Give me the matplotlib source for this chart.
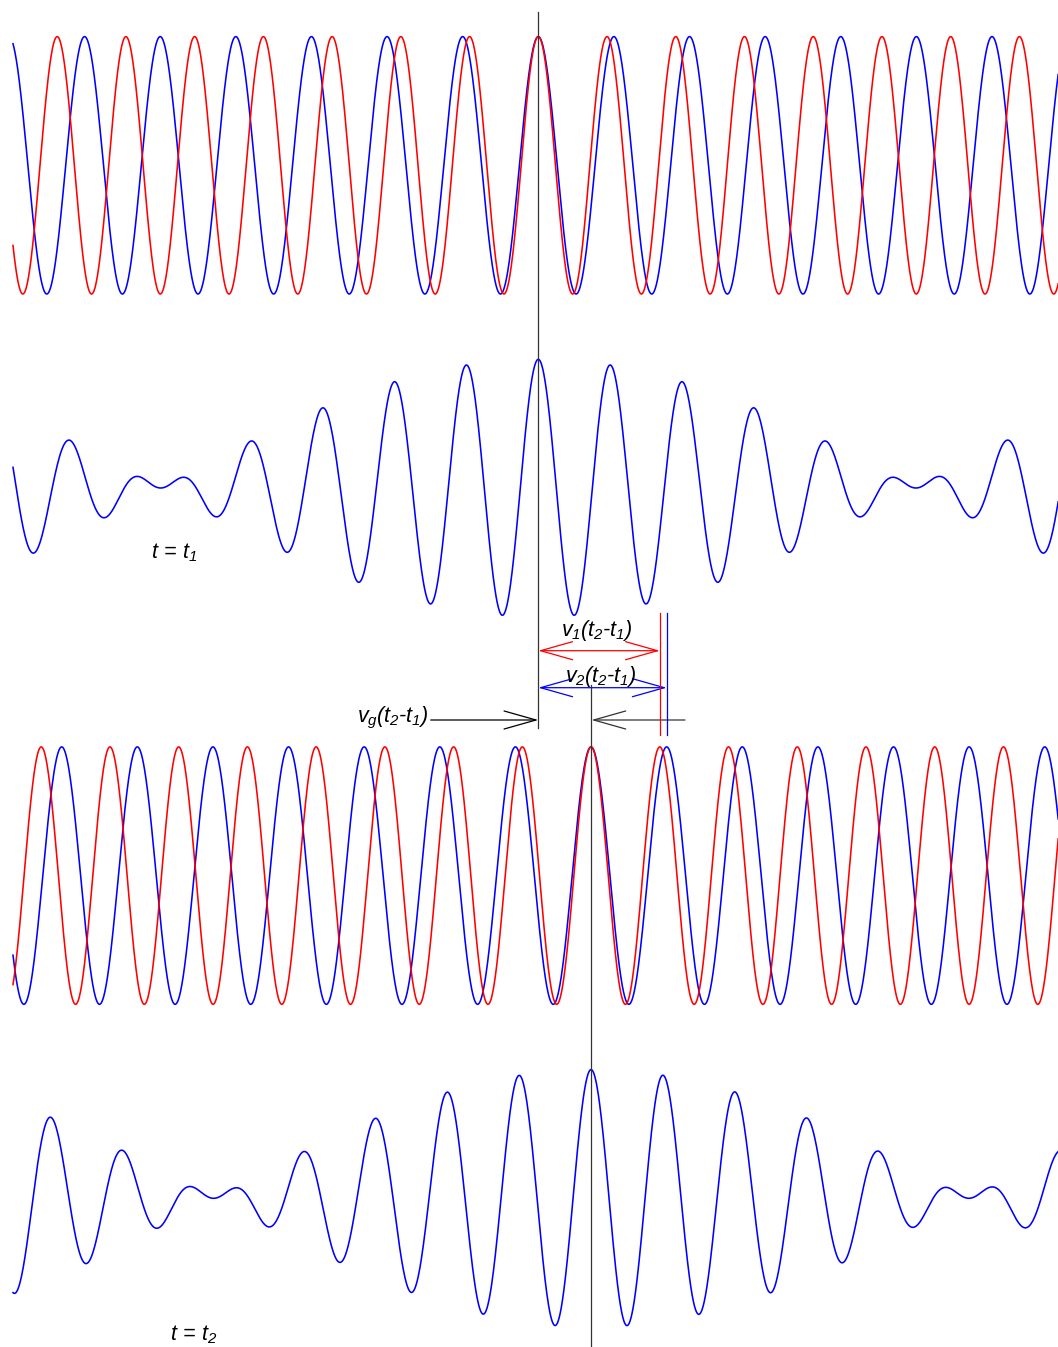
import numpy as np
import matplotlib
matplotlib.use("Agg")
import matplotlib.pyplot as plt
from matplotlib.patches import FancyArrowPatch

plt.rcParams['font.family'] = ['Liberation Sans', 'DejaVu Sans']
plt.rcParams['mathtext.fontset'] = 'custom'
plt.rcParams['mathtext.it'] = 'Liberation Sans:italic'
plt.rcParams['mathtext.rm'] = 'Liberation Sans:italic'
plt.rcParams['mathtext.sf'] = 'Liberation Sans:italic'

# ---- data (drawing units = pixels) ----
x_start, x_end = 13.0, 1060.0
wavelength_red = 68.73
wavelength_blue = 75.62
amplitude = 128.7
crest_t1 = 538.3            # common crest of both waves at t = t1
shift_red = 121.5           # v1 (t2 - t1)
shift_blue = 128.35         # v2 (t2 - t1)
center_components_t1 = 165.3
center_sum_t1 = 488.0
panel_offset_t2 = 710.3     # vertical offset of the t2 panels
labels_time = [r'$t\,=\,t_1$', r'$t\,=\,t_2$']
label_v1 = r'$v_1(t_2\text{-}t_1)$'
label_v2 = r'$v_2(t_2\text{-}t_1)$'
label_vg = r'$v_g(t_2\text{-}t_1)$'

RED = '#ff0000'
BLUE = '#0000ff'

fig = plt.figure(figsize=(10.58, 13.47), dpi=100)
ax = fig.add_axes([0, 0, 1, 1])
ax.set_xlim(0, 1058)
ax.set_ylim(1347, 0)
ax.axis('off')

x = np.linspace(x_start, x_end, 4000)

def wave(lam, shift):
    return np.cos(2 * np.pi * (x - crest_t1 - shift) / lam)

# group crest at t2 (where both phases align again)
kr, kb = 1 / wavelength_red, 1 / wavelength_blue
u = (shift_red * kr - shift_blue * kb) / (kr - kb)
crest_t2 = crest_t1 + u

for i, (dr, db) in enumerate([(0.0, 0.0), (shift_red, shift_blue)]):
    off = i * panel_offset_t2
    r = wave(wavelength_red, dr)
    b = wave(wavelength_blue, db)
    cc = center_components_t1 + off
    cs = center_sum_t1 + off
    ax.plot(x, cc - amplitude * b, color=BLUE, lw=1.15)
    ax.plot(x, cc - amplitude * r, color=RED, lw=1.15)
    ax.plot(x, cs - amplitude * (r + b) / 2, color=BLUE, lw=1.15)

# vertical reference lines
ax.plot([crest_t1, crest_t1], [12, 728], color='#333333', lw=0.9)
ax.plot([crest_t2, crest_t2], [685, 1347], color='#333333', lw=0.9)
ax.plot([crest_t1 + shift_red] * 2, [613, 735], color=RED, lw=0.9)
ax.plot([crest_t1 + shift_blue] * 2, [613, 735], color=BLUE, lw=0.9)

style_dbl = "<->,head_length=23,head_width=6.5"
style_one = "->,head_length=23,head_width=6.5"

def arrow(p0, p1, style, color):
    a = FancyArrowPatch(p0, p1, arrowstyle=style, mutation_scale=1,
                        color=color, lw=0.9, shrinkA=0, shrinkB=0)
    ax.add_patch(a)

arrow((crest_t1, 650.7), (crest_t1 + shift_red, 650.7), style_dbl, RED)
arrow((crest_t1, 687.7), (crest_t1 + shift_blue, 687.7), style_dbl, BLUE)
arrow((430.7, 720), (crest_t1, 720), style_one, 'black')
arrow((685, 720), (crest_t2, 720), style_one, '#333333')

fs = 15.5
ax.text(597, 636, label_v1, fontsize=fs, ha='center', va='baseline')
ax.text(600.5, 682, label_v2, fontsize=fs, ha='center', va='baseline')
ax.text(428.5, 722, label_vg, fontsize=fs, ha='right', va='baseline')
ax.text(151.0, 558.3, labels_time[0], fontsize=fs, ha='left', va='baseline')
ax.text(170.0, 1340.7, labels_time[1], fontsize=fs, ha='left', va='baseline')

fig.savefig('out.png', dpi=100)
